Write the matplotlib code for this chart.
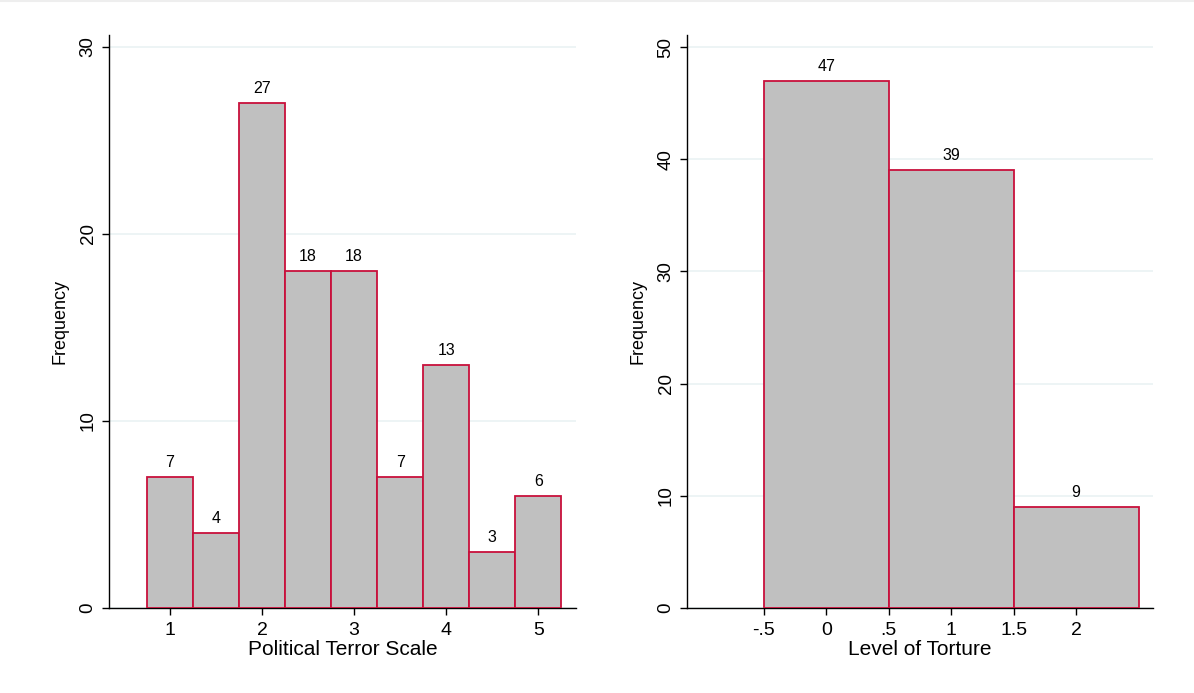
import numpy as np
import matplotlib.pyplot as plt
from matplotlib.lines import Line2D

plt.rcParams['font.family'] = ['Liberation Sans', 'DejaVu Sans']

# Political Terror Scale histogram (bin width 0.5)
pts_centers = [1, 1.5, 2, 2.5, 3, 3.5, 4, 4.5, 5]
pts_counts = [7, 4, 27, 18, 18, 7, 13, 3, 6]
pts_ticks = [1, 2, 3, 4, 5]

# Level of Torture histogram (bin width 1)
tort_centers = [0, 1, 2]
tort_counts = [47, 39, 9]
tort_ticks = [-0.5, 0, 0.5, 1, 1.5, 2]
tort_ticklabels = ['-.5', '0', '.5', '1', '1.5', '2']

fill = '#c0c0c0'
edge = '#c8103c'
grid = '#eaf2f3'

fig = plt.figure(figsize=(11.94, 6.93), dpi=100)
ax1 = fig.add_axes([109 / 1194, 1 - 608 / 693, (576 - 109) / 1194, (608 - 35) / 693])
ax2 = fig.add_axes([687 / 1194, 1 - 608 / 693, (1153 - 687) / 1194, (608 - 35) / 693])


def style(ax, yticks, ylim, xlim, xlabel):
    for s in ['top', 'right']:
        ax.spines[s].set_visible(False)
    for s in ['left', 'bottom']:
        ax.spines[s].set_linewidth(1.0)
        ax.spines[s].set_color('black')
    ax.set_ylim(*ylim)
    ax.set_xlim(*xlim)
    ax.set_yticks(yticks)
    ax.set_yticklabels([str(v) for v in yticks], rotation=90, va='center', fontsize=13.5)
    ax.tick_params(axis='both', length=5, width=1, color='black', pad=4)
    ax.tick_params(axis='x', labelsize=14, pad=5)
    ax.yaxis.grid(True, color=grid, linewidth=1.2)
    ax.set_axisbelow(True)
    ax.set_ylabel('Frequency', fontsize=13, labelpad=8)
    ax.set_xlabel(xlabel, fontsize=15, labelpad=1)


def draw_bars(ax, centers, counts, width):
    bars = ax.bar(centers, counts, width=width, color=fill, edgecolor=edge,
                  linewidth=1.3, zorder=3)
    for b, c in zip(bars, counts):
        ax.annotate(str(c), (b.get_x() + b.get_width() / 2, c),
                    xytext=(0, 5), textcoords='offset points',
                    ha='center', va='bottom', fontsize=11.5)


draw_bars(ax1, pts_centers, pts_counts, 0.5)
style(ax1, [0, 10, 20, 30], (0, 30.64), (0.337, 5.41), 'Political Terror Scale')
ax1.set_xticks(pts_ticks)
ax1.set_xticklabels([str(t) for t in pts_ticks])

draw_bars(ax2, tort_centers, tort_counts, 1.0)
style(ax2, [0, 10, 20, 30, 40, 50], (0, 51.07), (-1.115, 2.615), 'Level of Torture')
ax2.set_xticks(tort_ticks)
ax2.set_xticklabels(tort_ticklabels)

fig.add_artist(Line2D([0, 1], [0.998, 0.998], color='#eeeeee', linewidth=1.5))

fig.savefig('out.png', dpi=100)
